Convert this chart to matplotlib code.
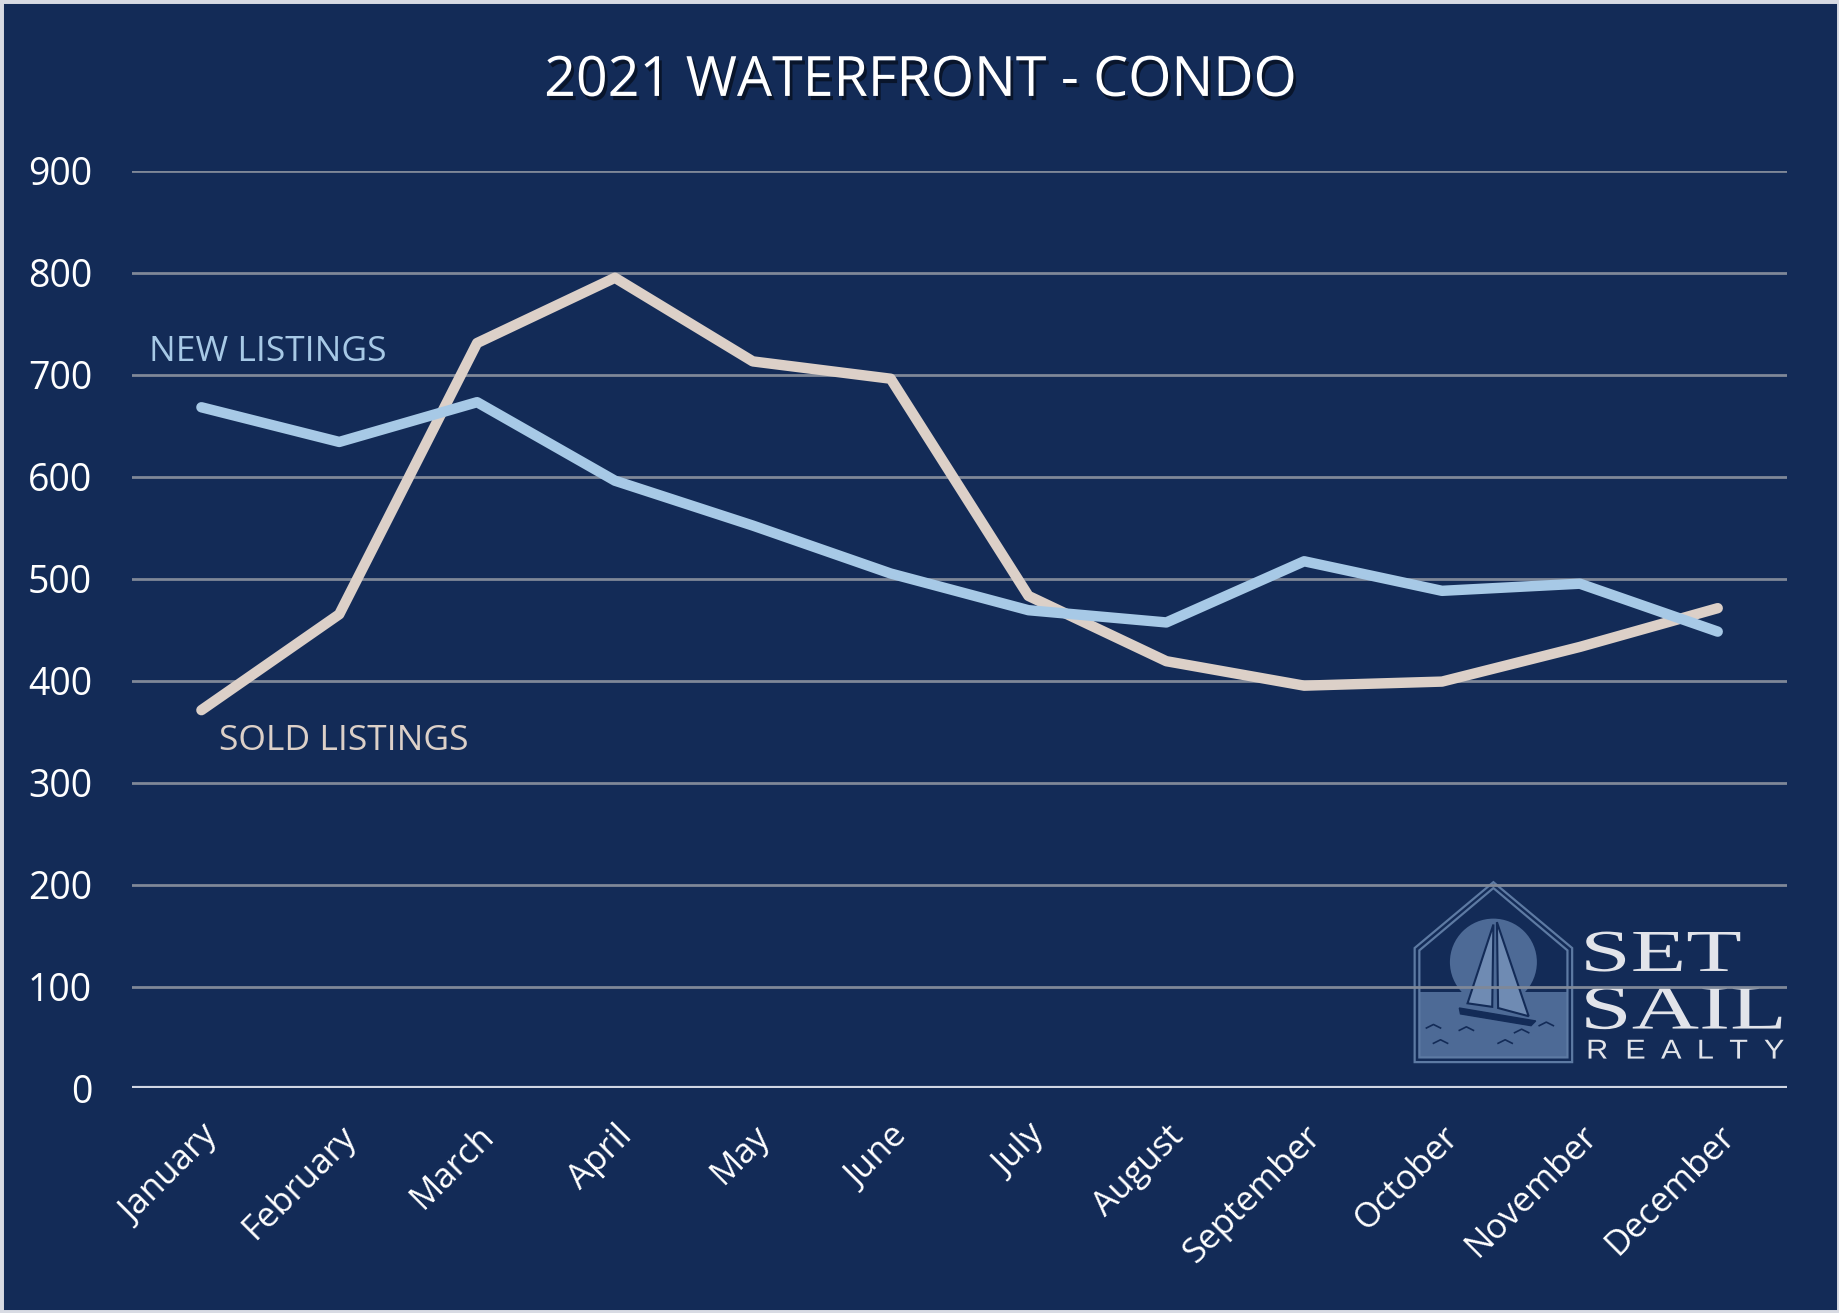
import matplotlib
matplotlib.use('Agg')
import matplotlib.pyplot as plt
import matplotlib.patheffects as pe
from matplotlib.patches import Polygon, Circle, Rectangle, PathPatch
from matplotlib.textpath import TextPath
from matplotlib.font_manager import FontProperties
from matplotlib.transforms import Affine2D
import numpy as np

months = ['January', 'February', 'March', 'April', 'May', 'June', 'July',
          'August', 'September', 'October', 'November', 'December']
new_listings = [668, 634, 673, 596, 552, 505, 469, 457, 517, 488, 495, 448]
sold_listings = [371, 465, 731, 795, 713, 696, 483, 419, 395, 399, 433, 471]

bg = '#132b57'
blue = '#a7c9e6'
beige = '#dcd0c8'
logo_txt = '#e2e4ea'

plt.rcParams['font.family'] = ['Open Sans', 'DejaVu Sans']

fig = plt.figure(figsize=(18.4, 13.13), dpi=100, facecolor=bg)
# thin light frame round the picture
fig.patches.append(Rectangle((0, 0), 1, 1, transform=fig.transFigure, fill=False,
                             ec='#d8dbe3', lw=5))


def fit_text(axl, s, family, x0, x1, ytop, ybot, color):
    # text path stretched to fill a box (logo lettering is very wide)
    tp = TextPath((0, 0), s, size=1, prop=FontProperties(family=family))
    ext = tp.get_extents()
    sx = (x1 - x0) / ext.width
    sy = (ybot - ytop) / ext.height
    tr = Affine2D().translate(-ext.x0, -ext.y0).scale(sx, -sy).translate(x0, ybot)
    axl.add_patch(PathPatch(tr.transform_path(tp), fc=color, ec='none'))


# logo, drawn in its own axes behind the chart
lg = fig.add_axes([0.765, 0.1866, 0.2076, 0.1478], zorder=0)
lg.set_xlim(1200, 1525)
lg.set_ylim(910, 745)
lg.axis('off')
lg.add_patch(Rectangle((1210, 845), 126, 56, fc='#4d6a96', ec='none'))
lg.add_patch(Circle((1273, 820), 37, fc='#4d6a96', ec='none'))
house = [(1206, 905), (1206, 808), (1273, 752), (1340, 808), (1340, 905)]
house2 = [(1210, 901), (1210, 810), (1273, 757), (1336, 810), (1336, 901)]
lg.add_patch(Polygon(house, closed=True, fill=False, ec='#5d7aa3', lw=1.6))
lg.add_patch(Polygon(house2, closed=True, fill=False, ec='#5d7aa3', lw=1.6))
lg.add_patch(Polygon([(1273, 788), (1251, 855), (1272, 858)], closed=True,
                     fc='#6f8bb3', ec=bg, lw=1.5))
lg.add_patch(Polygon([(1276, 786), (1277, 859), (1303, 866)], closed=True,
                     fc='#6f8bb3', ec=bg, lw=1.5))
lg.add_patch(Polygon([(1244, 859), (1309, 870), (1305, 874), (1245, 864)], closed=True,
                     fc=bg, ec=bg, lw=1))
for wx, wy in [(1228, 887), (1250, 876), (1283, 887), (1297, 878), (1222, 874), (1318, 872)]:
    lg.plot([wx - 6, wx, wx + 6], [wy + 2, wy - 1, wy + 2], color=bg, lw=1.2)
fit_text(lg, 'SET', 'Liberation Serif', 1352, 1483, 794, 828, logo_txt)
fit_text(lg, 'SAIL', 'Liberation Serif', 1352, 1518, 841, 877, logo_txt)
fit_text(lg, 'R  E  A  L  T  Y', 'Liberation Sans', 1354, 1520, 886, 902, logo_txt)

ax = fig.add_axes([0.072, 0.171, 0.899, 0.699], zorder=1)
ax.set_facecolor('none')
x = np.arange(len(months))
ax.plot(x, sold_listings, color=beige, lw=7.5, solid_capstyle='round', zorder=3)
ax.plot(x, new_listings, color=blue, lw=7.5, solid_capstyle='round', zorder=4)

ax.set_xlim(-0.5, 11.5)
ax.set_ylim(0, 900)
ax.set_yticks(range(0, 901, 100))
ax.set_xticks(x)
ax.set_xticklabels(months, rotation=45, ha='right', rotation_mode='anchor')
ax.tick_params(colors='white', length=0)
ax.tick_params(axis='x', labelsize=25, pad=22)
ax.tick_params(axis='y', labelsize=27, pad=29)
ax.grid(axis='y', color='#7f8898', lw=2)
ax.axhline(0, color='#d0d6e3', lw=3, zorder=2)
for s in ax.spines.values():
    s.set_visible(False)

ax.text(-0.38, 722, 'NEW LISTINGS', color=blue, fontsize=25.5, va='center', ha='left')
ax.text(0.13, 341, 'SOLD LISTINGS', color=beige, fontsize=25.5, va='center', ha='left')

fig.text(0.5, 0.938, '2021 WATERFRONT - CONDO', color='white', fontsize=40,
         ha='center', va='center',
         path_effects=[pe.withSimplePatchShadow(offset=(2, -3), shadow_rgbFace='black', alpha=0.5)])

fig.savefig('out.png', dpi=100, facecolor=bg)
